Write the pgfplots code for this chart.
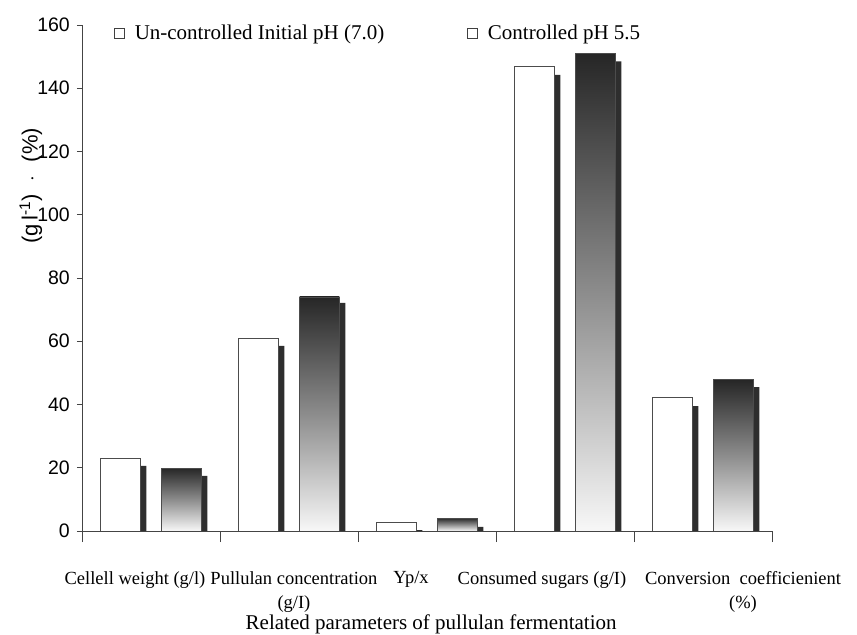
\documentclass[border=0pt]{standalone}
\usepackage{pgfplots}
\pgfplotsset{compat=1.18}
\usepackage{fontspec}
\setmainfont{Liberation Serif}
\newfontfamily\sansf{Liberation Sans}
\definecolor{axgray}{HTML}{444444}
\definecolor{shadow}{HTML}{2E2E2E}
\begin{document}
\begin{tikzpicture}
\path[use as bounding box] (0,0) rectangle (857bp,635bp);
\begin{axis}[
  at={(82bp,104bp)}, anchor=south west,
  scale only axis, width=690bp, height=506bp,
  xmin=-0.5, xmax=4.5, ymin=0, ymax=160,
  axis x line*=bottom, axis y line*=left,
  axis line style={axgray, line width=0.8bp},
  ytick={0,20,...,160},
  xtick={-0.116,1.036,1.884,2.833,4.29},
  xticklabels={Cellell weight (g/l), Pullulan concentration\\(g/I), Yp/x, Consumed sugars (g/I), Conversion\ \ coefficienient\\(\%)},
  minor xtick={-0.5,0.5,...,4.5},
  tick align=outside,
  major tick length=5bp,
  minor tick length=11bp,
  major x tick style={draw=none},
  minor x tick style={axgray, line width=0.8bp},
  major y tick style={axgray, line width=0.8bp},
  /pgf/number format/assume math mode=true,
  yticklabel style={font=\sansf\fontsize{19.5bp}{22bp}\selectfont, inner sep=0pt, xshift=-7bp},
  xticklabel style={font=\fontsize{18.5bp}{24bp}\selectfont, align=center, inner sep=0pt, yshift=-35bp},
  xlabel={Related parameters of pullulan fermentation},
  xlabel style={font=\fontsize{21bp}{25bp}\selectfont, inner sep=0pt, anchor=base, at={(axis description cs:0.506,-0.1937)}},
  ylabel={(g\,l\textsuperscript{-1})\hspace{0.6em}$\cdot$\hspace{0.6em}(\%)},
  ylabel style={font=\sansf\fontsize{22bp}{25bp}\selectfont, inner sep=0pt, anchor=center, at={(axis description cs:-0.074,0.682)}},
  legend columns=2,
  legend image code/.code={\draw[draw=black!75, fill=white, line width=0.6bp] (0bp,-5bp) rectangle (10bp,5bp);},
  legend style={draw=none, fill=none, at={(axis description cs:0.042,1.008)}, anchor=north west,
    font=\fontsize{21bp}{25bp}\selectfont,
    /tikz/every odd column/.append style={column sep=8bp},
    /tikz/every even column/.append style={column sep=81bp}},
  ctrl/.style={ybar, bar width=0.287, bar shift=0.221, draw=black!70, line width=0.7bp,
    shading=axis, top color=black!85, bottom color=black!3, middle color=black!45, forget plot},
]
% side faces (shadows)
\addplot[ybar, bar width=0.0435, bar shift=-0.056, fill=shadow, draw=none, forget plot]
  coordinates {(0,20.6) (1,58.5) (2,0.3) (3,144.2) (4,39.5)};
\addplot[ybar, bar width=0.0435, bar shift=0.386, fill=shadow, draw=none, forget plot]
  coordinates {(0,17.4) (1,72.1) (2,1.3) (3,148.5) (4,45.5)};
% front faces: un-controlled initial pH (7.0)
\addplot[ybar, bar width=0.287, bar shift=-0.221, fill=white, draw=black!70, line width=0.7bp, forget plot]
  coordinates {(0,23.0) (1,61.0) (2,2.8) (3,146.8) (4,42.4)};
% front faces: controlled pH 5.5 (one plot per bar so each bar has its own gradient)
\addplot[ctrl] coordinates {(0,19.9)};
\addplot[ctrl] coordinates {(1,74.0)};
\addplot[ctrl] coordinates {(2,4.1)};
\addplot[ctrl] coordinates {(3,151.0)};
\addplot[ctrl] coordinates {(4,47.8)};
\addlegendimage{draw=black!75, fill=white}
\addlegendimage{draw=black!75, fill=white}
\legend{Un-controlled Initial pH (7.0), Controlled pH 5.5}
\end{axis}
\end{tikzpicture}
\end{document}
